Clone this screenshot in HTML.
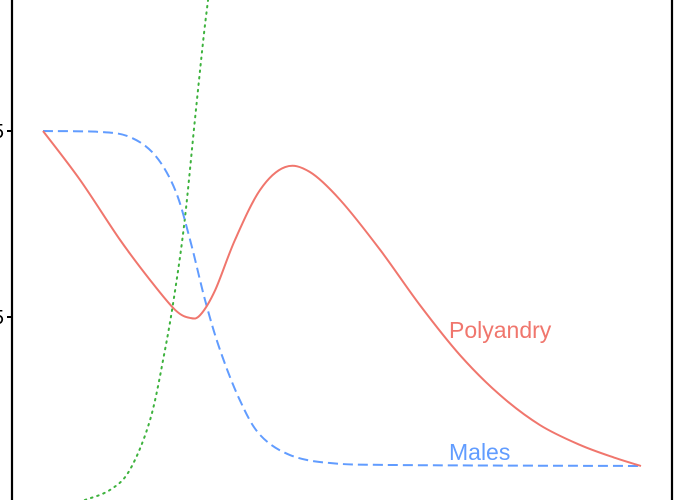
<!DOCTYPE html>
<html><head><meta charset="utf-8"><style>body{margin:0;background:#fff}svg{display:block}</style></head>
<body>
<svg id="chart" width="680" height="500" viewBox="0 0 680 500" font-family="Liberation Sans, sans-serif"></svg>
<script>
const tickValues=[1.5,0.5];
const tickLabels=["1.5","0.5"];
const polyX=[0,6.2,12.9,17.9,22.1,24.6,26.3,28.8,32.1,36.3,40.5,44.6,49.7,56.4,63.0,69.7,76.4,83.1,89.8,95.7,100];
const polyY=[1.5,1.237,0.914,0.699,0.538,0.495,0.511,0.645,0.914,1.183,1.306,1.280,1.129,0.860,0.565,0.296,0.081,-0.081,-0.188,-0.258,-0.301];
const malesX=[0,9.5,14.5,18.7,22.1,24.6,27.1,29.6,32.9,36.3,41.3,48.0,59.7,100];
const malesY=[1.5,1.495,1.468,1.371,1.183,0.914,0.591,0.323,0.054,-0.134,-0.242,-0.285,-0.296,-0.301];
const greenX=[7.0,11.2,14.5,17.9,20.4,22.1,23.7,25.4,26.8,27.6];
const greenY=[-0.484,-0.430,-0.323,-0.054,0.323,0.645,1.022,1.559,1.989,2.204];
const sx=v=>43+v*5.98;
const sy=v=>131+(1.5-v)*186;
const svg=document.getElementById('chart');
const NS='http://www.w3.org/2000/svg';
function mk(t,a){const e=document.createElementNS(NS,t);for(const k in a)e.setAttribute(k,a[k]);svg.appendChild(e);return e;}
function pathD(xs,ys){const p=xs.map((x,i)=>[sx(x),sy(ys[i])]);let d='M'+p[0][0]+','+p[0][1];
for(let i=0;i<p.length-1;i++){const p0=p[i-1]||p[i],p1=p[i],p2=p[i+1],p3=p[i+2]||p2;
d+=' C'+(p1[0]+(p2[0]-p0[0])/6)+','+(p1[1]+(p2[1]-p0[1])/6)+' '+(p2[0]-(p3[0]-p1[0])/6)+','+(p2[1]-(p3[1]-p1[1])/6)+' '+p2[0]+','+p2[1];}return d;}
const ax=mk('line',{x1:12,y1:0,x2:12,y2:500,stroke:'#000','stroke-width':2.2});


const rb=mk('line',{x1:672,y1:0,x2:672,y2:500,stroke:'#000','stroke-width':2.2});


tickValues.forEach((v,i)=>{
const t=mk('line',{x1:7,y1:sy(v),x2:12,y2:sy(v),stroke:'#000','stroke-width':2});


const l=mk('text',{x:4,y:sy(v)+7,'text-anchor':'end','font-size':20,fill:'#000'});
l.textContent=tickLabels[i];


});
const g=mk('path',{d:pathD(greenX,greenY),fill:'none',stroke:'#3DB23D','stroke-width':2,'stroke-dasharray':'1.5,5','stroke-linecap':'round'});


const m=mk('path',{d:pathD(malesX,malesY),fill:'none',stroke:'#619CFF','stroke-width':2,'stroke-dasharray':'10,5'});


const p=mk('path',{d:pathD(polyX,polyY),fill:'none',stroke:'#F0766D','stroke-width':2});


const pl=mk('text',{x:449,y:338,'font-size':23,fill:'#F0766D'});
pl.textContent='Polyandry';


const ml=mk('text',{x:449,y:460,'font-size':23,fill:'#619CFF'});
ml.textContent='Males';


</script>
</body></html>
